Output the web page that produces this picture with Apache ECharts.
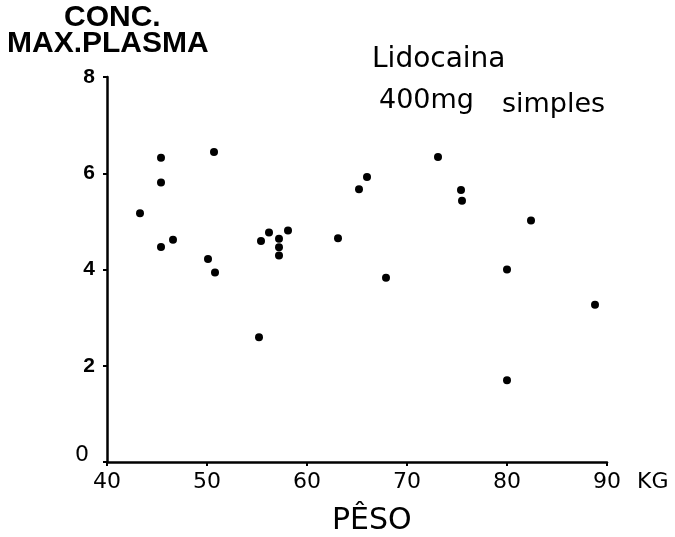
<!DOCTYPE html>
<html>
<head>
<meta charset="utf-8">
<script src="https://cdn.jsdelivr.net/npm/echarts@6/dist/echarts.min.js"></script>
<style>
  html, body { margin: 0; padding: 0; background: #fff; }
  #chart { width: 675px; height: 537px; }
</style>
</head>
<body>
<div id="chart"></div>
<script>
// peso (kg) e conc. max. plasma
var peso = [45.4, 45.4, 43.3, 45.4, 46.6, 50.7, 50.1, 50.8, 55.2, 55.4, 56.2, 57.2, 57.2, 57.2, 58.1,
  63.1, 65.2, 66.0, 67.9, 73.1, 75.4, 75.5, 82.4, 80.0, 80.0, 88.8];
var conc = [6.32, 5.81, 5.17, 4.47, 4.62, 6.44, 4.22, 3.94, 2.59, 4.59, 4.77, 4.64, 4.46, 4.29, 4.81,
  4.65, 5.67, 5.92, 3.83, 6.34, 5.65, 5.43, 5.02, 4.00, 1.70, 3.27];
var xTicks = [40, 50, 60, 70, 80, 90];
var yTicks = [0, 2, 4, 6, 8];

var points = [];
for (var i = 0; i < peso.length; i++) {
  points.push([peso[i], conc[i]]);
}

var chart = echarts.init(document.getElementById('chart'));

var option = {
  backgroundColor: '#fff',
  animation: false,
  grid: { left: 107, right: 68, top: 77, bottom: 75 },
  xAxis: {
    type: 'value',
    min: xTicks[0],
    max: xTicks[xTicks.length - 1],
    interval: 10,
    axisLine: { show: true, lineStyle: { color: '#000', width: 2.5 } },
    axisTick: { show: true, length: 4, lineStyle: { color: '#000', width: 2 } },
    axisLabel: {
      color: '#000',
      fontFamily: 'DejaVu Sans',
      fontSize: 22,
      margin: 9
    },
    splitLine: { show: false }
  },
  yAxis: {
    type: 'value',
    min: yTicks[0],
    max: yTicks[yTicks.length - 1],
    interval: 2,
    axisLine: { show: true, lineStyle: { color: '#000', width: 2.5 } },
    axisTick: { show: true, length: 4, lineStyle: { color: '#000', width: 2 } },
    axisLabel: {
      color: '#000',
      fontFamily: 'Liberation Sans',
      fontWeight: 'bold',
      fontSize: 21,
      margin: 12,
      formatter: function (v) {
        return v === 0 ? '{z|0}' : String(v);
      },
      rich: {
        z: { fontFamily: 'DejaVu Sans', fontWeight: 'normal', fontSize: 22, color: '#000', padding: [0, 6, 14, 0] }
      }
    },
    splitLine: { show: false }
  },
  graphic: [
    { type: 'text', left: 64, top: 3, style: { text: 'CONC.', font: 'bold 30px "Liberation Sans"', fill: '#000' } },
    { type: 'text', left: 7, top: 29, style: { text: 'MAX.PLASMA', font: 'bold 30px "Liberation Sans"', fill: '#000' } },
    { type: 'text', left: 372, top: 46, style: { text: 'Lidocaina', font: '28px "DejaVu Sans"', fill: '#000' } },
    { type: 'text', left: 379, top: 87, style: { text: '400mg', font: '27px "DejaVu Sans"', fill: '#000' } },
    { type: 'text', left: 502, top: 91, style: { text: 'simples', font: '27px "DejaVu Sans"', fill: '#000' } },
    { type: 'text', left: 637, top: 471, style: { text: 'KG', font: '22px "DejaVu Sans"', fill: '#000' } },
    { type: 'text', left: 332, top: 506, style: { text: 'PÊSO', font: '30px "DejaVu Sans"', fill: '#000' } }
  ],
  series: [{
    type: 'scatter',
    data: points,
    symbol: 'circle',
    symbolSize: 8,
    itemStyle: { color: '#000', opacity: 1 }
  }]
};

chart.setOption(option);
</script>
</body>
</html>
